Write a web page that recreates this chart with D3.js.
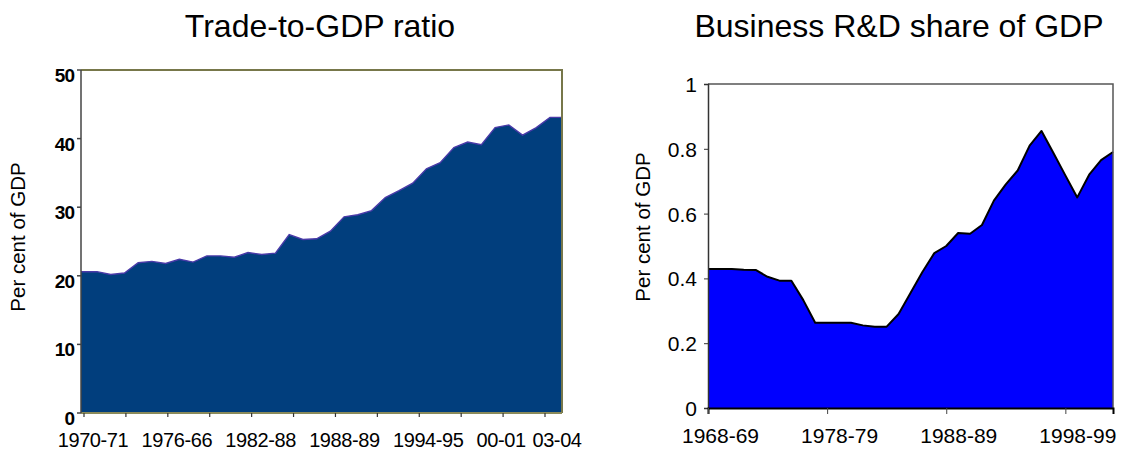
<!DOCTYPE html>
<html>
<head>
<meta charset="utf-8">
<script src="https://cdn.jsdelivr.net/npm/d3@7"></script>
<style>
  body { margin: 0; background: #fff; }
  svg { display: block; font-family: "Liberation Sans", Arial, sans-serif; }
</style>
</head>
<body>
<svg id="chart" width="1126" height="453"></svg>
<script>
// Trade-to-GDP ratio, 1970-71 .. 2003-04 (per cent of GDP)
const tradeYears = d3.range(1970, 2004).map(y => y + '-' + String((y + 1) % 100).padStart(2, '0'));
const tradeValues = [
  20.6, 20.2, 20.4, 21.9, 22.1, 21.8, 22.4, 22.0, 22.9, 22.9,
  22.7, 23.4, 23.1, 23.3, 26.0, 25.3, 25.4, 26.5, 28.6, 28.9,
  29.5, 31.4, 32.4, 33.5, 35.6, 36.5, 38.7, 39.5, 39.1, 41.6,
  42.0, 40.5, 41.6, 43.1
];
// tick labels as printed (typos kept) and the year they sit on
const tradeLabels = ['1970-71', '1976-66', '1982-88', '1988-89', '1994-95', '00-01', '03-04'];
const tradeLabelIdx = [0, 6, 12, 18, 24, 30, 33];
const tradeYTicks = [0, 10, 20, 30, 40, 50];

// Business R&D share of GDP, 1968-69 .. 2002-03
const rdYears = d3.range(1968, 2003).map(y => y + '-' + String((y + 1) % 100).padStart(2, '0'));
const rdValues = [
  0.429, 0.429, 0.429, 0.427, 0.426, 0.405, 0.393, 0.393, 0.333, 0.263,
  0.263, 0.263, 0.263, 0.255, 0.251, 0.251, 0.29, 0.355, 0.42, 0.478,
  0.50, 0.54, 0.538, 0.565, 0.64, 0.69, 0.733, 0.81, 0.855, 0.787,
  0.718, 0.65, 0.72, 0.765, 0.79
];
const rdLabels = ['1968-69', '1978-79', '1988-89', '1998-99'];
const rdYTicks = [0, 0.2, 0.4, 0.6, 0.8, 1];

const svg = d3.select('#chart');

// ---------- left chart ----------
const L = { left: 81, right: 562, top: 70, bottom: 413 };

const yL = d3.scaleLinear().domain([0, 50]).range([L.bottom, L.top]);
const xLData = d3.scaleLinear().domain([0, tradeValues.length - 1]).range([97, 550]);
const xLTick = d3.scaleLinear().domain([0, tradeValues.length - 1]).range([84, 545]);

const gL = svg.append('g');

let tradePts = tradeValues.map((v, i) => [xLData(i), yL(v)]);
tradePts = [[L.left, yL(tradeValues[0])]].concat(tradePts, [[L.right, yL(tradeValues[tradeValues.length - 1])]]);

gL.append('path')
  .attr('d', d3.area().x(d => d[0]).y0(L.bottom).y1(d => d[1])(tradePts))
  .attr('fill', '#013e7d');

gL.append('path')
  .attr('d', d3.line()(tradePts))
  .attr('fill', 'none')
  .attr('stroke', '#4a3aa8')
  .attr('stroke-width', 1.4);

// frame
gL.append('path')
  .attr('d', `M${L.left},${L.top}H${L.right}V${L.bottom}`)
  .attr('fill', 'none').attr('stroke', '#77774a').attr('stroke-width', 2);
gL.append('line')
  .attr('x1', L.left).attr('x2', L.right).attr('y1', L.bottom).attr('y2', L.bottom)
  .attr('stroke', '#8a8a5a').attr('stroke-width', 2);
gL.append('line')
  .attr('x1', L.left).attr('x2', L.left).attr('y1', L.top).attr('y2', L.bottom)
  .attr('stroke', '#444').attr('stroke-width', 1.5);

// y ticks
gL.selectAll('.ytl').data(tradeYTicks).join('line')
  .attr('x1', L.left - 4).attr('x2', L.left)
  .attr('y1', d => yL(d)).attr('y2', d => yL(d))
  .attr('stroke', '#444').attr('stroke-width', 1.5);
gL.selectAll('.ylab').data(tradeYTicks).join('text')
  .attr('x', 74).attr('y', d => yL(d) + 12)
  .attr('text-anchor', 'end')
  .attr('font-weight', 'bold').attr('font-size', 19)
  .attr('letter-spacing', -1)
  .text(d => d);

// x ticks
gL.selectAll('.xtl').data(d3.range(0, tradeValues.length, 3)).join('line')
  .attr('x1', d => xLTick(d)).attr('x2', d => xLTick(d))
  .attr('y1', L.bottom).attr('y2', L.bottom + 4)
  .attr('stroke', '#333').attr('stroke-width', 1.2);
gL.selectAll('.xlab').data(tradeLabels).join('text')
  .attr('x', (d, i) => xLTick(tradeLabelIdx[i]) + (i === 5 ? -2 : (i === 6 ? 12 : 9)))
  .attr('y', 447)
  .attr('text-anchor', 'middle')
  .attr('font-size', 20)
  .attr('letter-spacing', -0.4)
  .text(d => d);

gL.append('text')
  .attr('transform', 'translate(25,237) rotate(-90)')
  .attr('text-anchor', 'middle')
  .attr('font-size', 20.5)
  .text('Per cent of GDP');

svg.append('text')
  .attr('x', 320).attr('y', 37)
  .attr('text-anchor', 'middle')
  .attr('font-size', 32)
  .text('Trade-to-GDP ratio');

// ---------- right chart ----------
const R = { left: 708, right: 1113, top: 84, bottom: 408 };

const yR = d3.scaleLinear().domain([0, 1]).range([R.bottom, R.top]);
const xR = d3.scalePoint().domain(rdYears).range([R.left, R.right]);

const gR = svg.append('g');

gR.append('path')
  .datum(rdValues)
  .attr('d', d3.area().x((d, i) => xR(rdYears[i])).y0(R.bottom).y1(d => yR(d)))
  .attr('fill', '#0000ff');

gR.append('path')
  .datum(rdValues)
  .attr('d', d3.line().x((d, i) => xR(rdYears[i])).y(d => yR(d)))
  .attr('fill', 'none')
  .attr('stroke', '#000')
  .attr('stroke-width', 2)
  .attr('stroke-linejoin', 'round');

gR.append('path')
  .attr('d', `M${R.left},${R.top}H${R.right}V${R.bottom}`)
  .attr('fill', 'none').attr('stroke', '#555').attr('stroke-width', 1.5);

const axisLeftR = d3.axisLeft(yR).tickValues(rdYTicks).tickSize(4).tickPadding(7)
  .tickFormat(d => d3.format('~g')(d));
const gy = gR.append('g').attr('transform', `translate(${R.left},0)`).call(axisLeftR);
gy.select('.domain').attr('stroke', '#333').attr('stroke-width', 1.5);
gy.selectAll('.tick line').attr('stroke', '#333');
gy.selectAll('.tick text')
  .attr('font-family', '"Liberation Sans", Arial, sans-serif')
  .attr('font-size', 21).attr('fill', '#000').attr('dy', '0.36em');

const axisBottomR = d3.axisBottom(xR).tickValues(rdLabels).tickSize(6).tickPadding(14);
const gx = gR.append('g').attr('transform', `translate(0,${R.bottom})`).call(axisBottomR);
gx.select('.domain').attr('stroke', '#000').attr('stroke-width', 2);
gx.selectAll('.tick line').attr('stroke', '#444');
gx.selectAll('.tick text')
  .attr('font-family', '"Liberation Sans", Arial, sans-serif')
  .attr('font-size', 21).attr('fill', '#000')
  .attr('dx', 12);

gR.append('text')
  .attr('transform', 'translate(650,227) rotate(-90)')
  .attr('text-anchor', 'middle')
  .attr('font-size', 20.5)
  .text('Per cent of GDP');

svg.append('text')
  .attr('x', 899).attr('y', 37)
  .attr('text-anchor', 'middle')
  .attr('font-size', 32)
  .text('Business R&D share of GDP');
</script>
</body>
</html>
